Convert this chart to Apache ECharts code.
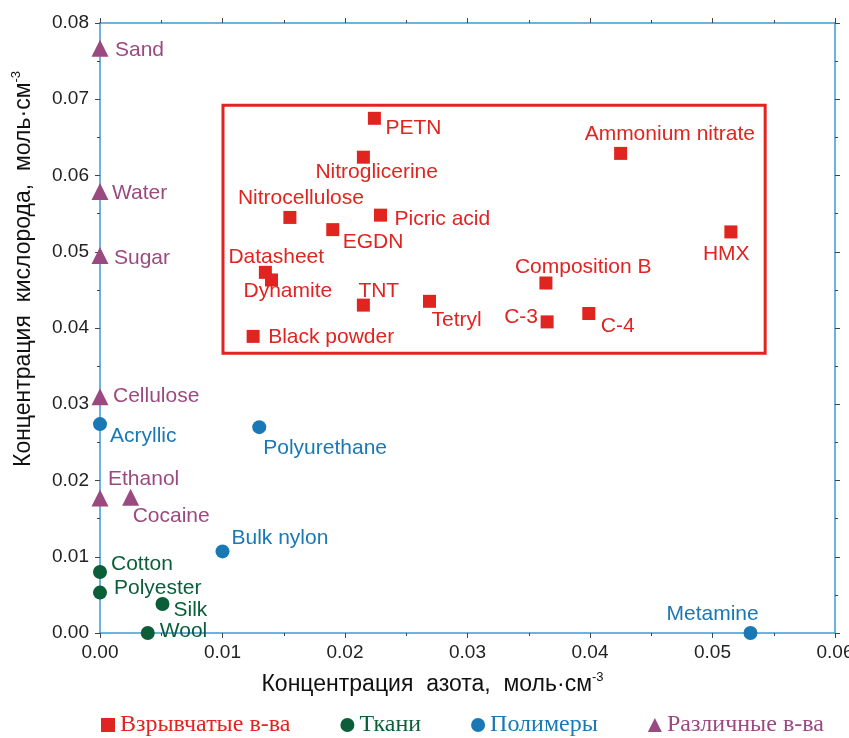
<!DOCTYPE html>
<html>
<head>
<meta charset="utf-8">
<script src="https://cdn.jsdelivr.net/npm/echarts@6/dist/echarts.min.js"></script>
<style>
  html, body { margin: 0; padding: 0; background: #fff; }
  #chart { width: 849px; height: 738px; }
</style>
</head>
<body>
<div id="chart"></div>
<script>
// данные: концентрация азота (N) и кислорода (O), моль/см3
var explNames = ['PETN', 'Nitroglicerine', 'Ammonium nitrate', 'Nitrocellulose', 'Picric acid', 'EGDN', 'HMX',
  'Datasheet', 'Dynamite', 'TNT', 'Tetryl', 'Composition B', 'C-3', 'C-4', 'Black powder'];
var explN = [0.0224, 0.0215, 0.0425, 0.0155, 0.0229, 0.0190, 0.0515, 0.0135, 0.0140, 0.0215, 0.0269, 0.0364, 0.0365, 0.0399, 0.0125];
var explO = [0.0675, 0.0624, 0.0629, 0.0545, 0.0548, 0.0529, 0.0526, 0.0473, 0.0463, 0.0430, 0.0435, 0.0459, 0.0408, 0.0419, 0.0389];

var fabricNames = ['Cotton', 'Polyester', 'Silk', 'Wool'];
var fabricN = [0, 0, 0.0051, 0.0039];
var fabricO = [0.0080, 0.0053, 0.0038, 0.0000];

var polyNames = ['Acryllic', 'Polyurethane', 'Bulk nylon', 'Metamine'];
var polyN = [0, 0.0130, 0.0100, 0.0531];
var polyO = [0.0274, 0.0270, 0.0107, 0.0000];

var miscNames = ['Sand', 'Water', 'Sugar', 'Cellulose', 'Ethanol', 'Cocaine'];
var miscN = [0, 0, 0, 0, 0, 0.0025];
var miscO = [0.0767, 0.0579, 0.0495, 0.0310, 0.0177, 0.0178];

var groupNames = ['Взрывчатые в-ва', 'Ткани', 'Полимеры', 'Различные в-ва'];

// рамка вокруг взрывчатых веществ (в координатах осей)
var boxFrom = [0.01004, 0.0692];
var boxTo = [0.0543, 0.0367];

// смещения подписей относительно маркера, px
var labelOffset = {
  'PETN': [11, 10], 'Nitroglicerine': [-48, 15], 'Ammonium nitrate': [-36, -19],
  'Nitrocellulose': [-52, -19], 'Picric acid': [14, 4], 'EGDN': [10, 13], 'HMX': [-28, 22],
  'Datasheet': [-37, -15], 'Dynamite': [-28, 11], 'TNT': [-5, -14], 'Tetryl': [2, 19],
  'Composition B': [-31, -16], 'C-3': [-43, -5], 'C-4': [12, 13], 'Black powder': [15, 1],
  'Sand': [15, 2], 'Water': [12, 2], 'Sugar': [14, 3], 'Cellulose': [13, 0],
  'Ethanol': [8, -19], 'Cocaine': [2, 19],
  'Acryllic': [10, 12], 'Polyurethane': [4, 21], 'Bulk nylon': [9, -13], 'Metamine': [-84, -19],
  'Cotton': [11, -8], 'Polyester': [14, -4], 'Silk': [11, 6], 'Wool': [12, -2]
};

var colors = ['#e02420', '#0b5e38', '#1a78b4', '#9a4a80'];
var axisBlue = '#3d9ad6';
var fontSans = 'Liberation Sans, Arial, sans-serif';

function points(names, xs, ys) {
  return names.map(function (n, i) {
    return { name: n, value: [xs[i], ys[i]], label: { offset: labelOffset[n] } };
  });
}

function makeSeries(idx, names, xs, ys, symbol, size) {
  return {
    name: groupNames[idx],
    type: 'scatter',
    symbol: symbol,
    symbolSize: size,
    itemStyle: { color: colors[idx], opacity: 1 },
    label: {
      show: true,
      position: 'inside',
      align: 'left',
      verticalAlign: 'middle',
      formatter: '{b}',
      color: colors[idx],
      fontFamily: fontSans,
      fontSize: 21
    },
    emphasis: { disabled: true },
    data: points(names, xs, ys)
  };
}

var xBase = {
  type: 'value', min: 0, max: 0.06, interval: 0.01,
  axisLine: { show: true, onZero: false, lineStyle: { color: axisBlue, width: 1.5 } },
  axisTick: { show: true, length: 5, lineStyle: { color: '#444' } },
  minorTick: { show: true, splitNumber: 2, length: 3, lineStyle: { color: '#444' } },
  splitLine: { show: false }
};
var yBase = {
  type: 'value', min: 0, max: 0.08, interval: 0.01,
  axisLine: { show: true, onZero: false, lineStyle: { color: axisBlue, width: 1.5 } },
  axisTick: { show: true, length: 5, lineStyle: { color: '#444' } },
  minorTick: { show: true, splitNumber: 2, length: 3, lineStyle: { color: '#444' } },
  splitLine: { show: false }
};

var nameRich = {
  sup: { fontSize: 13, fontFamily: fontSans, color: '#111', padding: [0, 0, 15, 0] }
};

var chart = echarts.init(document.getElementById('chart'));

var option = {
  animation: false,
  grid: { left: 100, right: 14, top: 23, bottom: 105, outerBoundsMode: 'none' },
  xAxis: [
    Object.assign({}, xBase, {
      position: 'bottom',
      name: 'Концентрация  азота,  моль·см{sup|-3}',
      nameLocation: 'middle',
      nameGap: 38,
      nameTextStyle: { fontSize: 23, fontFamily: fontSans, color: '#111', padding: [0, 70, 0, 0], rich: nameRich },
      axisLabel: {
        fontSize: 19, fontFamily: fontSans, color: '#222', margin: 10,
        formatter: function (v) { return v.toFixed(2); }
      }
    }),
    Object.assign({}, xBase, { position: 'top', axisLabel: { show: false } })
  ],
  yAxis: [
    Object.assign({}, yBase, {
      position: 'left',
      name: 'Концентрация  кислорода,  моль·см{sup|-3}',
      nameLocation: 'middle',
      nameGap: 62,
      nameTextStyle: { fontSize: 23, fontFamily: fontSans, color: '#111', padding: [0, 0, 0, 118], rich: nameRich },
      axisLabel: {
        fontSize: 19, fontFamily: fontSans, color: '#222', margin: 11,
        formatter: function (v) { return v.toFixed(2); }
      }
    }),
    Object.assign({}, yBase, { position: 'right', axisLabel: { show: false } })
  ],
  legend: {
    left: 96,
    top: 708,
    itemWidth: 14,
    itemHeight: 14,
    itemGap: 50,
    textStyle: { fontFamily: 'Liberation Serif, Times New Roman, serif', fontSize: 24 },
    data: groupNames.map(function (n, i) { return { name: n, textStyle: { color: colors[i] } }; })
  },
  series: [
    Object.assign(makeSeries(0, explNames, explN, explO, 'rect', 13), {
      markArea: {
        silent: true,
        itemStyle: { color: 'rgba(0,0,0,0)', borderColor: colors[0], borderWidth: 3 },
        data: [[{ coord: boxFrom }, { coord: boxTo }]]
      }
    }),
    makeSeries(1, fabricNames, fabricN, fabricO, 'circle', 14),
    makeSeries(2, polyNames, polyN, polyO, 'circle', 14),
    makeSeries(3, miscNames, miscN, miscO, 'triangle', 17)
  ]
};

chart.setOption(option);
</script>
</body>
</html>
